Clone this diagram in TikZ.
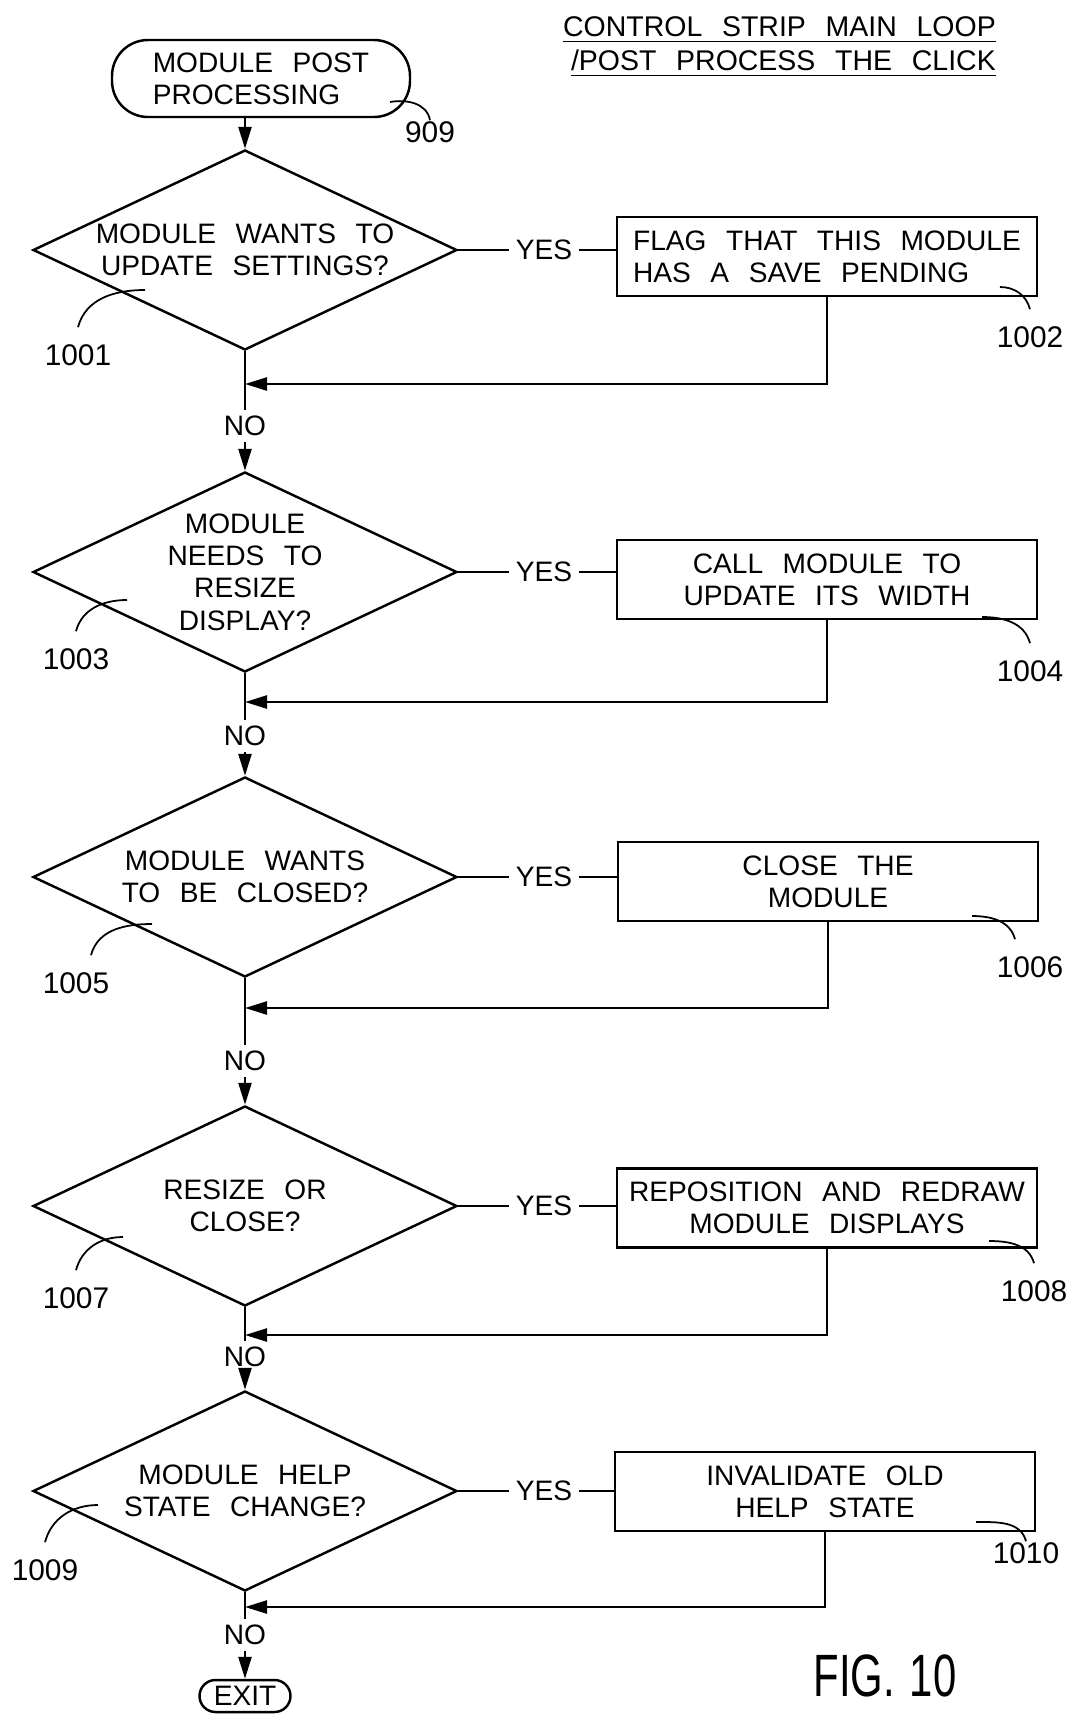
\documentclass[tikz,border=0pt]{standalone}
\usepackage{fontspec}
\setmainfont{Liberation Sans}[WordSpace=2.5]
\usetikzlibrary{arrows.meta,shapes.geometric}
\newcommand{\pfont}{\fontsize{8}{9.2}\selectfont}
\newcommand{\nfont}{\fontsize{8.5}{10}\selectfont}
\newcommand{\tfont}{\fontsize{8.1}{9.7}\selectfont}
\tikzstyle{chk}=[diamond, draw=black, inner sep=0pt, aspect=2.2,
                minimum width=4.24cm, minimum height=2cm, align=center, font=\pfont]
\tikzstyle{act}=[rectangle, draw=black, inner sep=0pt, minimum width=4.2cm,
                minimum height=0.79cm, font=\pfont]
\tikzstyle{termnl}=[rectangle, draw=black, rounded corners=3.6mm, font=\pfont]
\tikzstyle{ylab}=[inner sep=1.5pt, font=\pfont]
\tikzstyle{refno}=[inner xsep=0pt, inner ysep=1.6mm, font=\nfont]
\tikzstyle{arr}=[-{Triangle[length=2.2mm,width=1.3mm]}]
\tikzstyle{lead}=[line width=0.5pt]

\begin{document}
\begin{tikzpicture}[line width=0.7pt]
\useasboundingbox (0,0) rectangle (10.75,-17.14);
% heading
\node[anchor=north east, align=right, inner sep=0pt, font=\tfont] (head) at (9.97,-0.15)
  {\underline{CONTROL STRIP MAIN LOOP}\\\underline{/POST PROCESS THE CLICK}};
% start and end
\node[termnl, minimum width=2.98cm, minimum height=0.77cm, align=left] (start) at (2.61,-0.785)
  {MODULE POST\\PROCESSING};
\node[termnl, rounded corners=1.6mm, minimum width=0.91cm, minimum height=0.32cm,
  inner sep=0pt] (exit) at (2.45,-16.96) {EXIT};
% tests
\node[chk] (d1) at (2.45,-2.50) {MODULE WANTS TO\\UPDATE SETTINGS?};
\node[chk] (d2) at (2.45,-5.72) {MODULE\\NEEDS TO\\RESIZE\\DISPLAY?};
\node[chk] (d3) at (2.45,-8.77) {MODULE WANTS\\TO BE CLOSED?};
\node[chk] (d4) at (2.45,-12.06) {RESIZE OR\\CLOSE?};
\node[chk] (d5) at (2.45,-14.91) {MODULE HELP\\STATE CHANGE?};
% actions
\node[act, align=left] (b1) at (8.27,-2.565) {FLAG THAT THIS MODULE\\HAS A SAVE PENDING};
\node[act, align=center] (b2) at (8.27,-5.795) {CALL MODULE TO\\UPDATE ITS WIDTH};
\node[act, align=center] (b3) at (8.28,-8.815) {CLOSE THE\\MODULE};
\node[act, align=center] (b4) at (8.27,-12.08) {REPOSITION AND REDRAW\\MODULE DISPLAYS};
\node[act, align=center] (b5) at (8.25,-14.915) {INVALIDATE OLD\\HELP STATE};
% yes / no
\node[ylab] (y1) at (5.44,-2.50) {YES};
\node[ylab] (y2) at (5.44,-5.72) {YES};
\node[ylab] (y3) at (5.44,-8.77) {YES};
\node[ylab] (y4) at (5.44,-12.06) {YES};
\node[ylab] (y5) at (5.44,-14.91) {YES};
\node[ylab] (n1) at (2.45,-4.26) {NO};
\node[ylab] (n2) at (2.45,-7.36) {NO};
\node[ylab] (n3) at (2.45,-10.61) {NO};
\node[ylab] (n4) at (2.45,-13.57) {NO};
\node[ylab] (n5) at (2.45,-16.35) {NO};
% merge points
\coordinate (j1) at (2.45,-3.84);
\coordinate (j2) at (2.45,-7.02);
\coordinate (j3) at (2.45,-10.08);
\coordinate (j4) at (2.45,-13.35);
\coordinate (j5) at (2.45,-16.07);
% reference numbers
\node[refno, inner ysep=0pt] (r909) at (4.30,-1.32) {909};
\node[refno] (r1001) at (0.78,-3.55) {1001};
\node[refno] (r1002) at (10.30,-3.37) {1002};
\node[refno] (r1003) at (0.76,-6.59) {1003};
\node[refno] (r1004) at (10.30,-6.71) {1004};
\node[refno] (r1005) at (0.76,-9.83) {1005};
\node[refno] (r1006) at (10.30,-9.67) {1006};
\node[refno] (r1007) at (0.76,-12.98) {1007};
\node[refno] (r1008) at (10.34,-12.91) {1008};
\node[refno] (r1009) at (0.45,-15.70) {1009};
\node[refno, inner ysep=0pt] (r1010) at (10.26,-15.53) {1010};
\coordinate (l909) at (3.90,-1.02);
\coordinate (l1001) at (1.45,-2.90);
\coordinate (l1002) at (10.00,-2.87);
\coordinate (l1003) at (1.27,-6.00);
\coordinate (l1004) at (9.82,-6.17);
\coordinate (l1005) at (1.52,-9.24);
\coordinate (l1006) at (9.72,-9.16);
\coordinate (l1007) at (1.23,-12.37);
\coordinate (l1008) at (9.89,-12.41);
\coordinate (l1009) at (0.98,-15.05);
\coordinate (l1010) at (9.76,-15.22);
\node[font=\fontsize{17}{20}\selectfont, inner sep=0pt] (fig) at (8.85,-16.76)
  {\scalebox{0.7}[1]{FIG.\kern0.35em10}};
% flow
\path[arr]
  (start.south -| d1.north) edge (d1.north)
  (n1.south) edge (d2.north)
  (n2.south) edge (d3.north)
  (n3.south) edge (d4.north)
  (n4.south) edge (d5.north)
  (n5.south) edge (exit.north);
\path
  (d1.east) edge (y1.west) (y1.east) edge (y1.east -| b1.west)
  (d2.east) edge (y2.west) (y2.east) edge (y2.east -| b2.west)
  (d3.east) edge (y3.west) (y3.east) edge (y3.east -| b3.west)
  (d4.east) edge (y4.west) (y4.east) edge (y4.east -| b4.west)
  (d5.east) edge (y5.west) (y5.east) edge (y5.east -| b5.west)
  (d1.south) edge (n1.north)
  (d2.south) edge (n2.north)
  (d3.south) edge (n3.north)
  (d4.south) edge (n4.north)
  (d5.south) edge (n5.north);
\draw[arr] (b1.south) |- (j1);
\draw[arr] (b2.south) |- (j2);
\draw[arr] (b3.south) |- (j3);
\draw[arr] (b4.south) |- (j4);
\draw[arr] (b5.south) |- (j5);
% leaders
\draw[lead] (l909) to[out=10,in=100] (r909.north);
\draw[lead] (l1001) to[out=180,in=75] (r1001.north);
\draw[lead] (l1002) to[out=0,in=105] (r1002.north);
\draw[lead] (l1003) to[out=180,in=75] (r1003.north);
\draw[lead] (l1004) to[out=0,in=105] (r1004.north);
\draw[lead] (l1005) to[out=180,in=75] ([xshift=1.5mm]r1005.north);
\draw[lead] (l1006) to[out=0,in=105] ([xshift=-1.5mm]r1006.north);
\draw[lead] (l1007) to[out=180,in=75] (r1007.north);
\draw[lead] (l1008) to[out=0,in=105] (r1008.north);
\draw[lead] (l1009) to[out=180,in=75] (r1009.north);
\draw[lead] (l1010) to[out=0,in=105] (r1010.north);
\end{tikzpicture}
\end{document}
